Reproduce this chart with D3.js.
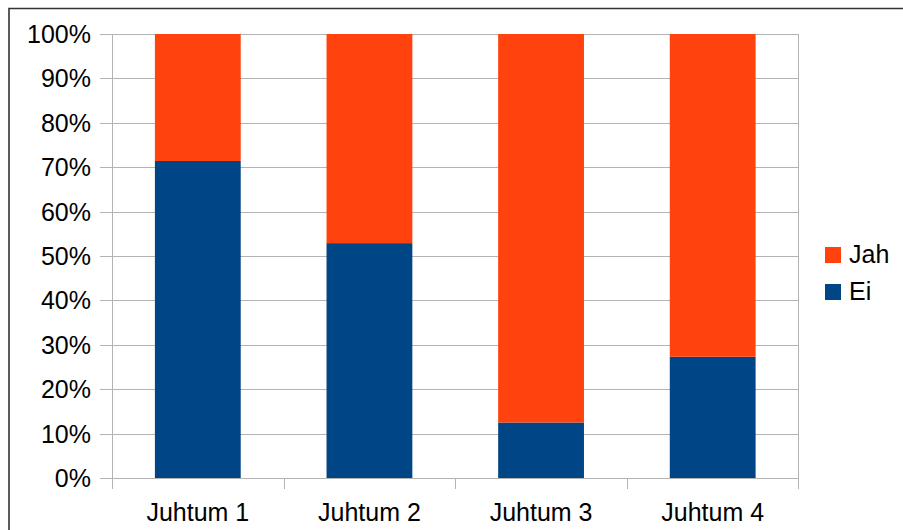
<!DOCTYPE html>
<html>
<head>
<meta charset="utf-8">
<script src="https://cdn.jsdelivr.net/npm/d3@7"></script>
<style>
  html, body { margin: 0; padding: 0; background: #fff; }
  svg { display: block; }
  text { font-family: "Liberation Sans", Arial, sans-serif; fill: #000; }
</style>
</head>
<body>
<svg id="chart" width="903" height="530"></svg>
<script>
// Share of answers per case (fractions of 1)
const categories = ["Juhtum 1", "Juhtum 2", "Juhtum 3", "Juhtum 4"];
const eiValues  = [0.714, 0.529, 0.125, 0.273];
const jahValues = [0.286, 0.471, 0.875, 0.727];
const seriesNames = ["Ei", "Jah"];
const seriesColors = ["#004586", "#ff420e"];
const yTicks = [0, 0.1, 0.2, 0.3, 0.4, 0.5, 0.6, 0.7, 0.8, 0.9, 1.0];

const svg = d3.select("#chart");
const W = 903, H = 530;
const plot = { left: 112, right: 798.5, top: 34, bottom: 478 };

// Outer frame (top and left edges visible inside the page)
svg.append("path")
  .attr("d", `M9,${H + 2} V8.5 H${W + 2}`)
  .attr("fill", "none")
  .attr("stroke", "#333")
  .attr("stroke-width", 1.6);

const rows = categories.map((c, i) => ({ cat: c, Ei: eiValues[i], Jah: jahValues[i] }));
const stacked = d3.stack().keys(seriesNames)(rows);

const x = d3.scaleBand().domain(categories)
  .range([plot.left, plot.right]).paddingInner(0.5).paddingOuter(0.25);
const y = d3.scaleLinear().domain([0, 1]).range([plot.bottom, plot.top]);

// Horizontal grid lines with small ticks to the left of the axis
svg.append("g").selectAll("line").data(yTicks).join("line")
  .attr("x1", plot.left - 12).attr("x2", plot.right)
  .attr("y1", d => Math.round(y(d)) + 0.5).attr("y2", d => Math.round(y(d)) + 0.5)
  .attr("stroke", "#b3b3b3").attr("stroke-width", 1);

// Right edge of the plot area
svg.append("line")
  .attr("x1", plot.right).attr("x2", plot.right)
  .attr("y1", plot.top).attr("y2", plot.bottom + 11)
  .attr("stroke", "#b3b3b3").attr("stroke-width", 1);

// Bars
const seriesG = svg.append("g").selectAll("g").data(stacked).join("g")
  .attr("fill", (d, i) => seriesColors[i]);
seriesG.selectAll("rect").data(d => d).join("rect")
  .attr("x", d => x(d.data.cat))
  .attr("width", x.bandwidth())
  .attr("y", d => y(d[1]))
  .attr("height", d => y(d[0]) - y(d[1]));

// Left axis line and category separators
svg.append("line")
  .attr("x1", plot.left + 0.5).attr("x2", plot.left + 0.5)
  .attr("y1", plot.top).attr("y2", plot.bottom + 11)
  .attr("stroke", "#b3b3b3").attr("stroke-width", 1);
const step = x.step();
const sepX = d3.range(1, categories.length).map(i => plot.left + step * i);
svg.append("g").selectAll("line").data(sepX).join("line")
  .attr("x1", d => Math.round(d) + 0.5).attr("x2", d => Math.round(d) + 0.5)
  .attr("y1", plot.bottom).attr("y2", plot.bottom + 11)
  .attr("stroke", "#b3b3b3").attr("stroke-width", 1);

// Y tick labels
const fmt = d3.format(".0%");
svg.append("g").selectAll("text").data(yTicks).join("text")
  .attr("x", plot.left - 21)
  .attr("y", d => y(d) + 9)
  .attr("text-anchor", "end")
  .attr("font-size", 25)
  .text(d => fmt(d));

// Category labels
svg.append("g").selectAll("text").data(categories).join("text")
  .attr("x", d => x(d) + x.bandwidth() / 2)
  .attr("y", 521)
  .attr("text-anchor", "middle")
  .attr("font-size", 25)
  .text(d => d);

// Legend (Jah above Ei)
const legendItems = [
  { name: "Jah", color: seriesColors[1] },
  { name: "Ei", color: seriesColors[0] }
];
const lg = svg.append("g").selectAll("g").data(legendItems).join("g")
  .attr("transform", (d, i) => `translate(825,${247 + i * 37})`);
lg.append("rect").attr("width", 16).attr("height", 16).attr("fill", d => d.color);
lg.append("text").attr("x", 24).attr("y", 16).attr("font-size", 25).text(d => d.name);
</script>
</body>
</html>
